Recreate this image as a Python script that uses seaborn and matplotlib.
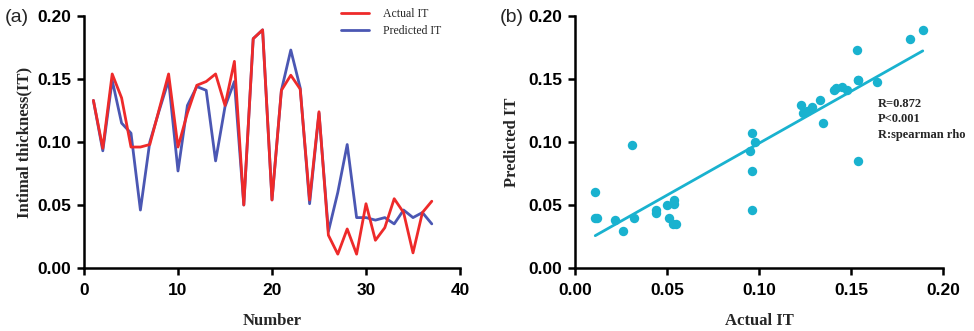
import matplotlib
matplotlib.use("Agg")
import matplotlib.pyplot as plt
import numpy as np
import pandas as pd
import seaborn as sns
from matplotlib.ticker import FormatStrFormatter

# ---------------- data ----------------
number = list(range(1, 38))
actual_it = [0.133, 0.095, 0.154, 0.135, 0.096, 0.096, 0.098, 0.126, 0.154, 0.096,
             0.123, 0.145, 0.148, 0.154, 0.129, 0.164, 0.050, 0.182, 0.189, 0.054,
             0.141, 0.153, 0.142, 0.054, 0.124, 0.026, 0.011, 0.031, 0.011, 0.051,
             0.022, 0.032, 0.055, 0.044, 0.012, 0.044, 0.053]
predicted_it = [0.133, 0.093, 0.149, 0.115, 0.107, 0.046, 0.100, 0.125, 0.149, 0.077,
                0.129, 0.144, 0.141, 0.085, 0.128, 0.148, 0.050, 0.182, 0.189, 0.054,
                0.141, 0.173, 0.143, 0.051, 0.123, 0.029, 0.060, 0.098, 0.040, 0.040,
                0.038, 0.040, 0.035, 0.046, 0.040, 0.044, 0.035]
y_ticks = [0.00, 0.05, 0.10, 0.15, 0.20]
x_ticks_left = [0, 10, 20, 30, 40]
x_ticks_right = [0.00, 0.05, 0.10, 0.15, 0.20]
stats_text = "R=0.872\nP<0.001\nR:spearman rho"

df = pd.DataFrame({"Number": number, "Actual IT": actual_it, "Predicted IT": predicted_it})

RED = "#EE2A2A"
BLUE = "#4B57B3"
CYAN = "#19B2CF"

sns.set_theme(style="ticks")
plt.rcParams["font.family"] = ["Liberation Sans Narrow", "Liberation Sans", "DejaVu Sans"]
plt.rcParams["axes.linewidth"] = 1.8
plt.rcParams["xtick.major.width"] = 1.8
plt.rcParams["ytick.major.width"] = 1.8
plt.rcParams["xtick.major.size"] = 5
plt.rcParams["ytick.major.size"] = 5
plt.rcParams["xtick.color"] = "black"
plt.rcParams["ytick.color"] = "black"
plt.rcParams["axes.edgecolor"] = "black"

fig = plt.figure(figsize=(9.74, 3.31), dpi=100)
W, H = 974, 331
axL = fig.add_axes([84 / W, 63 / H, 376 / W, 252 / H])
axR = fig.add_axes([575 / W, 63 / H, 368 / W, 252 / H])

serif_b = dict(family=["Liberation Serif", "DejaVu Serif"], weight="bold")
tick_font = dict(family=["Liberation Sans Narrow", "Liberation Sans", "DejaVu Sans"], weight="bold", size=12.5)

# ---------------- left panel ----------------
sns.lineplot(data=df, x="Number", y="Predicted IT", ax=axL, color=BLUE, lw=2.0,
             label="Predicted IT", zorder=2)
sns.lineplot(data=df, x="Number", y="Actual IT", ax=axL, color=RED, lw=2.0,
             label="Actual IT", zorder=3)
axL.set_xlim(0, 40)
axL.set_ylim(0, 0.20)
axL.set_xticks(x_ticks_left)
axL.set_yticks(y_ticks)
axL.yaxis.set_major_formatter(FormatStrFormatter("%.2f"))
axL.set_xlabel("Number", fontsize=12, labelpad=10.5, **serif_b)
axL.set_ylabel("Intimal thickness(IT)", fontsize=12, labelpad=4, **serif_b)
handles, labels = axL.get_legend_handles_labels()
order = [labels.index("Actual IT"), labels.index("Predicted IT")]
axL.legend([handles[i] for i in order], [labels[i] for i in order],
           loc="upper left", bbox_to_anchor=((336 - 84) / 376, 1.05), frameon=False,
           prop=dict(family=["Liberation Serif", "DejaVu Serif"], size=8.5),
           handlelength=2.4, handletextpad=1.2, labelspacing=0.45, borderaxespad=0)

# ---------------- right panel ----------------
sns.regplot(data=df, x="Actual IT", y="Predicted IT", ax=axR, ci=None, truncate=True,
            color=CYAN, scatter_kws=dict(s=46, linewidths=0, alpha=1),
            line_kws=dict(lw=2.0))
axR.set_xlim(0, 0.20)
axR.set_ylim(0, 0.20)
axR.set_xticks(x_ticks_right)
axR.set_yticks(y_ticks)
axR.xaxis.set_major_formatter(FormatStrFormatter("%.2f"))
axR.yaxis.set_major_formatter(FormatStrFormatter("%.2f"))
axR.set_xlabel("Actual IT", fontsize=12, labelpad=10.5, **serif_b)
axR.set_ylabel("Predicted IT", fontsize=12, labelpad=6, **serif_b)
axR.text(0.1645, 0.135, stats_text, fontsize=9, va="top", ha="left",
         linespacing=1.4, **serif_b)

for ax in (axL, axR):
    sns.despine(ax=ax)
    ax.tick_params(axis="x", direction="out", pad=6)
    ax.tick_params(axis="y", direction="out", pad=4)
    for lbl in ax.get_xticklabels() + ax.get_yticklabels():
        lbl.set_fontfamily(tick_font["family"])
        lbl.set_fontweight("bold")
        lbl.set_fontsize(tick_font["size"])
    ax.set_facecolor("white")

fig.text(5 / W, 1 - 17 / H, "(a)", fontsize=14, va="center", ha="left",
         family=["Liberation Sans", "DejaVu Sans"])
fig.text(500 / W, 1 - 17 / H, "(b)", fontsize=14, va="center", ha="left",
         family=["Liberation Sans", "DejaVu Sans"])

fig.savefig("out.png", dpi=100, facecolor="white")
